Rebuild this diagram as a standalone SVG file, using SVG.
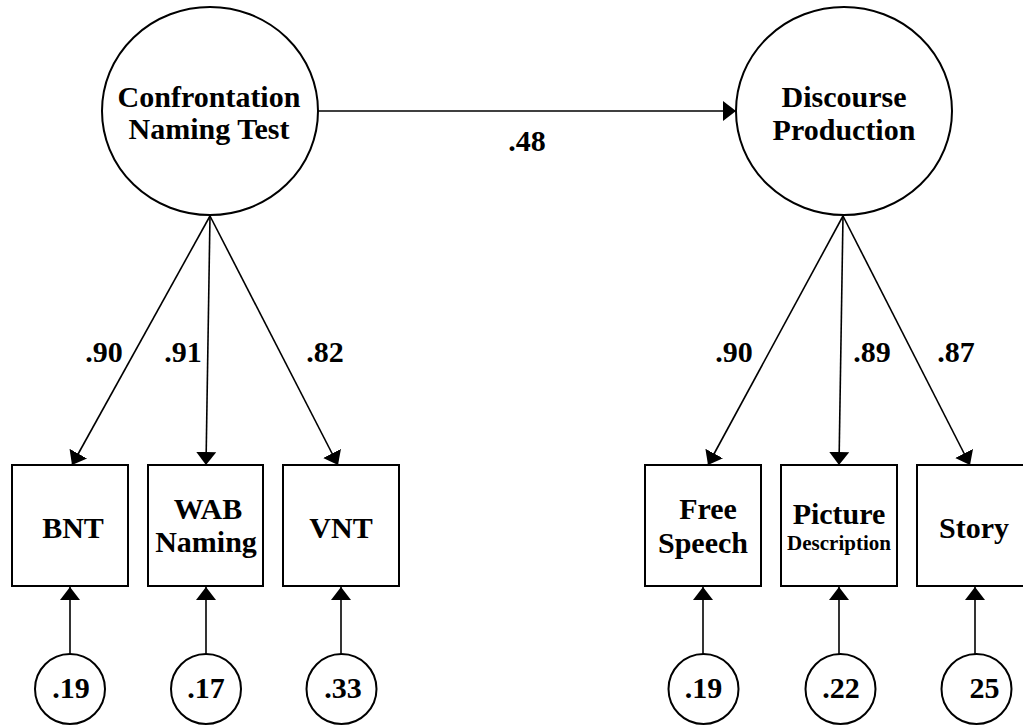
<svg xmlns="http://www.w3.org/2000/svg" width="1023" height="725" viewBox="0 0 1023 725">
<style>
.sh{fill:#fff;stroke:#000;stroke-width:2}
.ln{stroke:#000;stroke-width:1.6;fill:none}
.t{font-size:30px;text-anchor:middle;fill:#000}
.s{font-size:21px;text-anchor:middle;fill:#000}
</style>
<defs>
<marker id="ah" markerUnits="userSpaceOnUse" markerWidth="14" markerHeight="22" refX="13" refY="10" orient="auto" viewBox="0 0 14 20">
<path d="M0,0 L13,10 L0,20 z" fill="#000"/>
</marker>
</defs>
<rect width="1023" height="725" fill="#fff"/>
<g id="connectors">
<line class="ln" x1="318" y1="111" x2="736" y2="111" marker-end="url(#ah)"/>
<line class="ln" x1="210" y1="216" x2="72" y2="465" marker-end="url(#ah)"/>
<line class="ln" x1="210" y1="216" x2="206" y2="465" marker-end="url(#ah)"/>
<line class="ln" x1="210" y1="216" x2="338" y2="465" marker-end="url(#ah)"/>
<line class="ln" x1="843" y1="216" x2="708" y2="465" marker-end="url(#ah)"/>
<line class="ln" x1="843" y1="216" x2="839" y2="465" marker-end="url(#ah)"/>
<line class="ln" x1="843" y1="216" x2="970" y2="465" marker-end="url(#ah)"/>
<line class="ln" x1="70" y1="654" x2="70" y2="587" marker-end="url(#ah)"/>
<line class="ln" x1="206" y1="654" x2="206" y2="587" marker-end="url(#ah)"/>
<line class="ln" x1="341" y1="654" x2="341" y2="587" marker-end="url(#ah)"/>
<line class="ln" x1="703" y1="654" x2="703" y2="587" marker-end="url(#ah)"/>
<line class="ln" x1="839" y1="654" x2="839" y2="587" marker-end="url(#ah)"/>
<line class="ln" x1="975" y1="654" x2="975" y2="587" marker-end="url(#ah)"/>
<text class="t" font-family="Liberation Serif" font-weight="bold" x="527" y="151">.48</text>
<text class="t" font-family="Liberation Serif" font-weight="bold" x="104" y="362">.90</text>
<text class="t" font-family="Liberation Serif" font-weight="bold" x="183" y="362">.91</text>
<text class="t" font-family="Liberation Serif" font-weight="bold" x="325" y="362">.82</text>
<text class="t" font-family="Liberation Serif" font-weight="bold" x="734" y="362">.90</text>
<text class="t" font-family="Liberation Serif" font-weight="bold" x="872" y="362">.89</text>
<text class="t" font-family="Liberation Serif" font-weight="bold" x="956" y="362">.87</text>
</g>
<g id="confrontation">
<ellipse class="sh" cx="210" cy="111" rx="108" ry="104"/>
<text class="t" font-family="Liberation Serif" font-weight="bold" x="209" y="107">Confrontation</text>
<text class="t" font-family="Liberation Serif" font-weight="bold" x="209" y="139">Naming Test</text>
</g>
<g id="discourse">
<ellipse class="sh" cx="844" cy="111" rx="108" ry="104"/>
<text class="t" font-family="Liberation Serif" font-weight="bold" x="844" y="107">Discourse</text>
<text class="t" font-family="Liberation Serif" font-weight="bold" x="844" y="140">Production</text>
</g>
<g id="bnt">
<rect class="sh" x="12" y="465" width="116" height="121"/>
<text class="t" font-family="Liberation Serif" font-weight="bold" x="73" y="538">BNT</text>
</g>
<g id="wab">
<rect class="sh" x="148" y="465" width="115" height="121"/>
<text class="t" font-family="Liberation Serif" font-weight="bold" x="208" y="519">WAB</text>
<text class="t" font-family="Liberation Serif" font-weight="bold" x="206" y="552">Naming</text>
</g>
<g id="vnt">
<rect class="sh" x="283" y="465" width="116" height="121"/>
<text class="t" font-family="Liberation Serif" font-weight="bold" x="341" y="538">VNT</text>
</g>
<g id="freespeech">
<rect class="sh" x="645" y="465" width="116" height="121"/>
<text class="t" font-family="Liberation Serif" font-weight="bold" x="708" y="519">Free</text>
<text class="t" font-family="Liberation Serif" font-weight="bold" x="703" y="553">Speech</text>
</g>
<g id="picture">
<rect class="sh" x="781" y="465" width="116" height="121"/>
<text class="t" font-family="Liberation Serif" font-weight="bold" x="839" y="524">Picture</text>
<text class="s" font-family="Liberation Serif" font-weight="bold" x="839" y="550">Description</text>
</g>
<g id="story">
<rect class="sh" x="917" y="465" width="116" height="121"/>
<text class="t" font-family="Liberation Serif" font-weight="bold" x="974" y="538">Story</text>
</g>
<g id="e1">
<circle class="sh" cx="70" cy="689" r="35"/>
<text class="t" font-family="Liberation Serif" font-weight="bold" x="71" y="698">.19</text>
</g>
<g id="e2">
<circle class="sh" cx="206" cy="689" r="35"/>
<text class="t" font-family="Liberation Serif" font-weight="bold" x="206" y="698">.17</text>
</g>
<g id="e3">
<circle class="sh" cx="341.5" cy="689" r="35"/>
<text class="t" font-family="Liberation Serif" font-weight="bold" x="343" y="698">.33</text>
</g>
<g id="e4">
<circle class="sh" cx="703.5" cy="689" r="35"/>
<text class="t" font-family="Liberation Serif" font-weight="bold" x="703.5" y="698">.19</text>
</g>
<g id="e5">
<circle class="sh" cx="840.5" cy="689" r="35"/>
<text class="t" font-family="Liberation Serif" font-weight="bold" x="841" y="698">.22</text>
</g>
<g id="e6">
<circle class="sh" cx="976.5" cy="689" r="35"/>
<text class="t" font-family="Liberation Serif" font-weight="bold" x="984.5" y="698">25</text>
</g>
</svg>
